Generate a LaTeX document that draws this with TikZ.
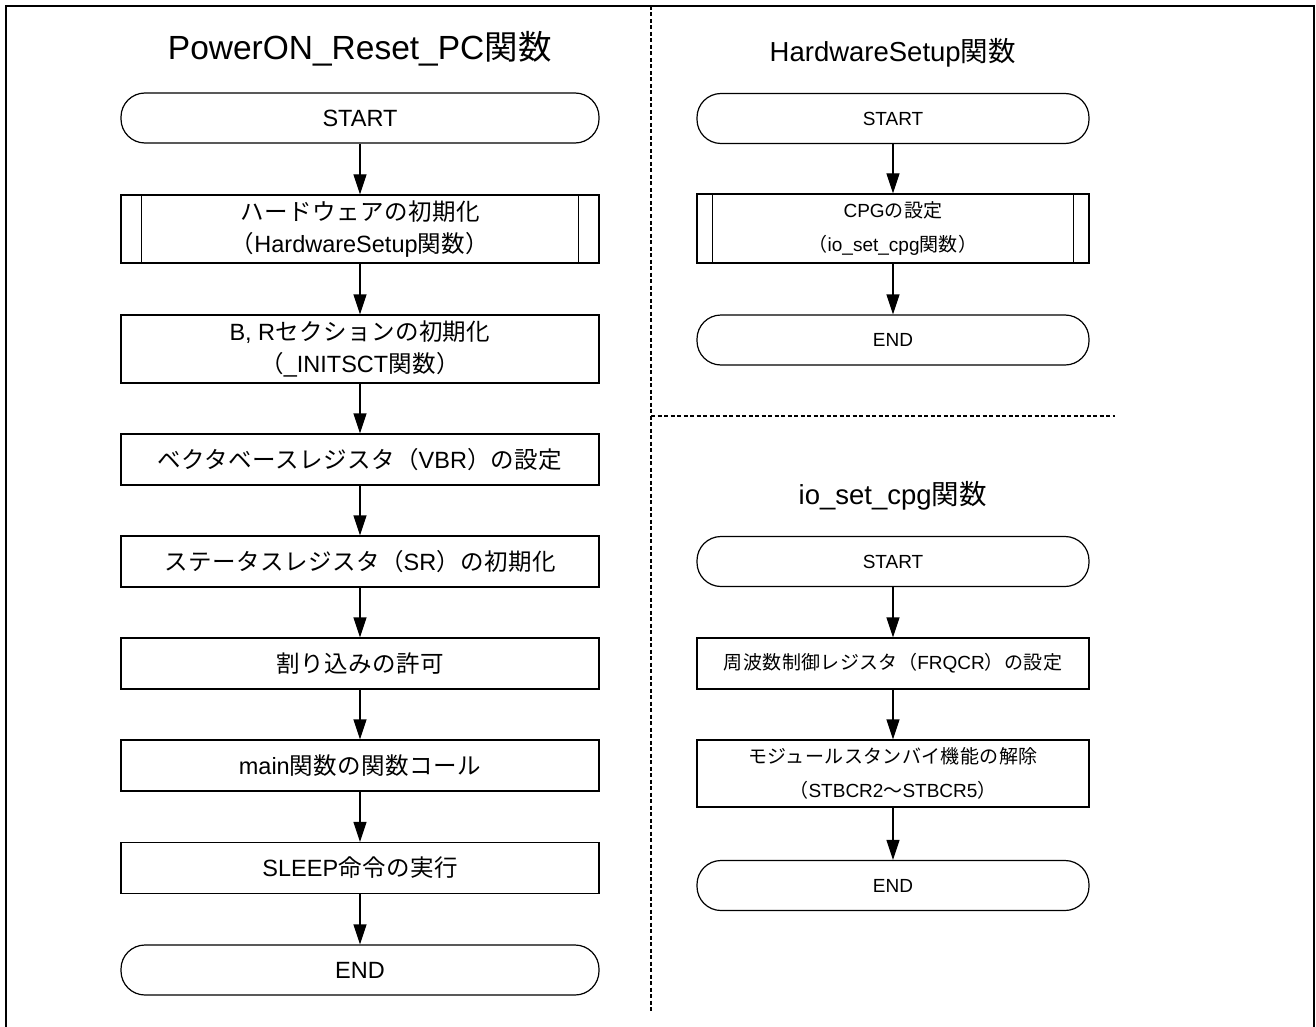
\documentclass[tikz,border=0pt]{standalone}
\usepackage{fontspec}
\setmainfont{Liberation Sans}
\newfontfamily\jp[LetterSpace=2]{Noto Sans CJK JP}
\usetikzlibrary{arrows.meta}
\newcommand\J[1]{{\jp #1}}
\begin{document}
\begin{tikzpicture}[x=1pt,y=-1pt,
  term/.style={draw, line width=1.2pt, rounded corners=24pt, minimum height=50pt, inner sep=0pt},
  proc/.style={draw, line width=1.2pt, minimum height=51pt, inner sep=0pt, align=center},
  lft/.style={font=\fontsize{23.5}{32}\selectfont, minimum width=478pt},
  rgt/.style={font=\fontsize{19}{34}\selectfont, minimum width=392pt},
  arr/.style={-{Triangle[length=20pt,width=13pt]}, line width=1.2pt},
  sep/.style={dash pattern=on 4pt off 2.5pt, line width=1.2pt},
  ttl/.style={anchor=base}]
\useasboundingbox (0,0) rectangle (1316,1027);
\draw[line width=2pt] (6,1027) -- (6,6) -- (1314,6) -- (1314,1027);
% separators
\draw[sep] (651,6) -- (651,1013);
\draw[sep] (651,416) -- (1115,416);
% left column
\node[ttl, font=\fontsize{33.5}{36}\selectfont] (t1) at (360,60) {PowerON\_Reset\_PC\J{関数}};
\node[term, lft] (s1) at (360,118) {START};
\node[proc, lft, minimum height=68pt] (b1) at (360,229) {\J{ハードウェアの初期化}\\\J{（}HardwareSetup\J{関数）}};
\node[proc, lft, minimum height=68pt] (b2) at (360,349) {B, R\J{セクションの初期化}\\\J{（}\_INITSCT\J{関数）}};
\node[proc, lft] (b3) at (360,459.5) {\J{ベクタベースレジスタ（}VBR\J{）の設定}};
\node[proc, lft] (b4) at (360,561.5) {\J{ステータスレジスタ（}SR\J{）の初期化}};
\node[proc, lft] (b5) at (360,663.5) {\J{割り込みの許可}};
\node[proc, lft] (b6) at (360,765.5) {main\J{関数の関数コール}};
\node[proc, lft] (b7) at (360,868) {SLEEP\J{命令の実行}};
\node[term, lft] (e1) at (360,970) {END};
\draw[line width=1.2pt] ([xshift=21pt]b1.north west) -- ([xshift=21pt]b1.south west);
\draw[line width=1.2pt] ([xshift=-21pt]b1.north east) -- ([xshift=-21pt]b1.south east);
\draw[arr] (s1) -- (b1);
\draw[arr] (b1) -- (b2);
\draw[arr] (b2) -- (b3);
\draw[arr] (b3) -- (b4);
\draw[arr] (b4) -- (b5);
\draw[arr] (b5) -- (b6);
\draw[arr] (b6) -- (b7);
\draw[arr] (b7) -- (e1);
% right top
\node[ttl, font=\fontsize{27.5}{30}\selectfont] (t2) at (893,62) {HardwareSetup\J{関数}};
\node[term, rgt] (s2) at (893,118.5) {START};
\node[proc, rgt, minimum height=69pt] (c1) at (893,228.5) {CPG\J{の設定}\\\J{（}io\_set\_cpg\J{関数）}};
\node[term, rgt] (e2) at (893,340) {END};
\draw[line width=1.2pt] ([xshift=16pt]c1.north west) -- ([xshift=16pt]c1.south west);
\draw[line width=1.2pt] ([xshift=-16pt]c1.north east) -- ([xshift=-16pt]c1.south east);
\draw[arr] (s2) -- (c1);
\draw[arr] (c1) -- (e2);
% right bottom
\node[ttl, font=\fontsize{27.5}{30}\selectfont] (t3) at (893,504) {io\_set\_cpg\J{関数}};
\node[term, rgt] (s3) at (893,561.5) {START};
\node[proc, rgt] (f1) at (893,663.5) {\J{周波数制御レジスタ（}FRQCR\J{）の設定}};
\node[proc, rgt, minimum height=67pt] (m1) at (893,773.5) {\J{モジュールスタンバイ機能の解除}\\\J{（}STBCR2\J{～}STBCR5\J{）}};
\node[term, rgt] (e3) at (893,885.5) {END};
\draw[arr] (s3) -- (f1);
\draw[arr] (f1) -- (m1);
\draw[arr] (m1) -- (e3);
\end{tikzpicture}
\end{document}
